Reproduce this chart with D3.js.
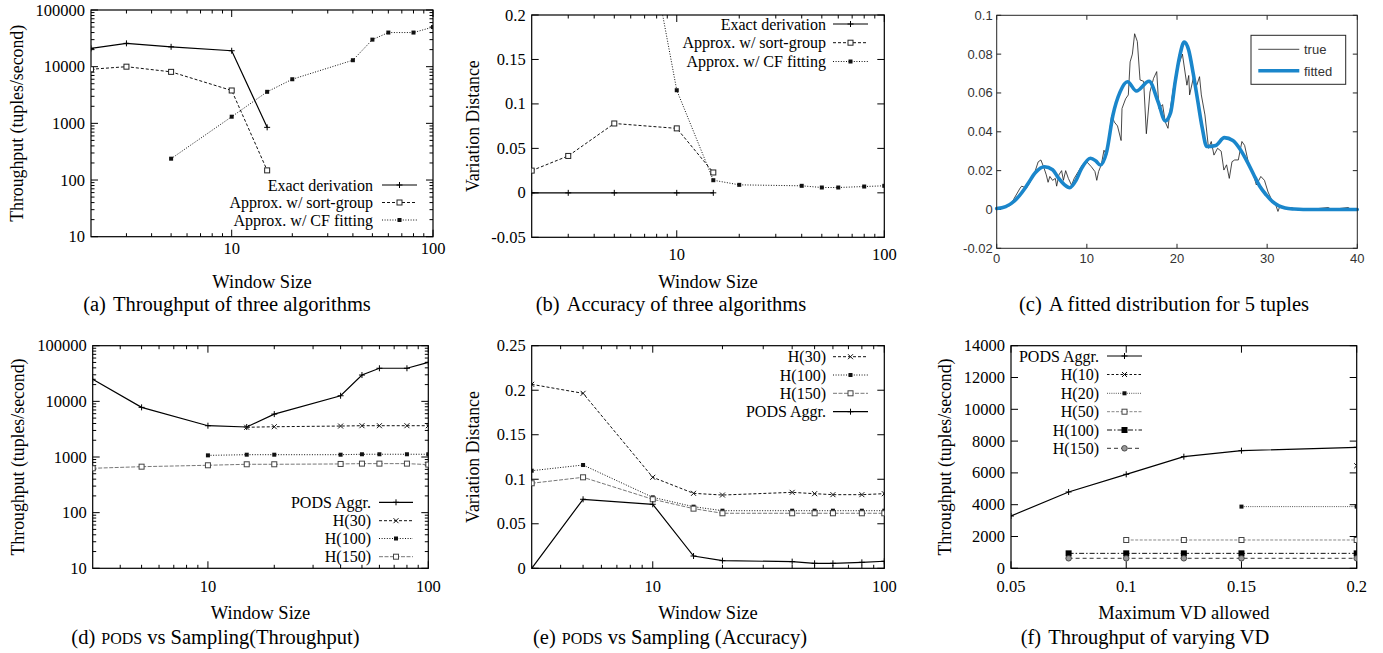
<!DOCTYPE html>
<html>
<head>
<meta charset="utf-8">
<script src="https://cdn.jsdelivr.net/npm/d3@7"></script>
<style>body{margin:0;background:#fff}</style>
</head>
<body>
<div id="chart"></div>
<script>
/* ---- data ---- */

// (a) throughput of three algorithms
var exactA_x = [2, 3, 5, 10, 15];
var exactA_y = [21000, 25800, 22400, 19100, 850];
var sortA_x = [2, 3, 5, 10, 15];
var sortA_y = [9000, 10000, 8100, 3800, 148];
var cfA_x = [5, 10, 15, 20, 40, 50, 60, 80, 100];
var cfA_y = [238, 1310, 3600, 6000, 13000, 30000, 40000, 40000, 50000];

// (b) accuracy of three algorithms
var exactB_x = [2, 3, 5, 10, 15];
var exactB_y = [0, 0, 0, 0, 0];
var sortB_x = [2, 3, 5, 10, 15];
var sortB_y = [0.025, 0.0415, 0.078, 0.0725, 0.0229];
var cfB_x = [5, 10, 15, 20, 40, 50, 60, 80, 100];
var cfB_y = [0.49, 0.1154, 0.0142, 0.009, 0.0079, 0.006, 0.006, 0.0071, 0.0079];

// (c) fitted distribution for 5 tuples
var fitX = [0, 1, 2, 3, 3.5, 4.3, 5.3, 6.2, 6.8, 7.5, 8.1, 8.8, 9.4, 10.4, 11, 11.5, 12.2, 12.9, 13.7, 14.5, 15.5, 16.9,
  17.9, 18.7, 19.3, 19.8, 20.3, 20.8, 21.3, 21.8, 22.3, 22.8, 23.3, 24.3, 25.25, 26.2, 27, 27.8, 28.5, 29.2, 29.9,
  30.6, 31.3, 32, 33, 34, 40];
var fitY = [0.0005, 0.0015, 0.0045, 0.01, 0.0135, 0.019, 0.022, 0.0205, 0.0165, 0.0128, 0.0112, 0.015, 0.021, 0.0264,
  0.025, 0.0229, 0.0298, 0.0487, 0.0607, 0.0658, 0.061, 0.066, 0.0555, 0.0456, 0.05, 0.0658, 0.079, 0.0862, 0.082,
  0.07, 0.056, 0.042, 0.0324, 0.033, 0.037, 0.0355, 0.031, 0.0245, 0.018, 0.0118, 0.0075, 0.004, 0.0018, 0.0007,
  0.0002, 0, 0];
var trueX = [0, 0.9, 1.5, 1.85, 2.6, 2.77, 3.3, 3.7, 4.25, 4.6, 4.9, 5.2, 5.5, 5.7, 5.9, 6.2, 6.5, 6.65, 6.9, 7.2, 7.4,
  7.65, 7.95, 8.3, 8.6, 9.05, 9.5, 10, 10.5, 10.9, 11.1, 11.3, 11.6, 11.9, 12.2, 12.75, 13.05, 13.4, 13.8, 13.9, 14.3,
  14.6, 14.8, 15.05, 15.3, 15.6, 15.9, 16.3, 16.6, 17, 17.4, 17.75, 18, 18.4, 18.7, 19, 19.2, 19.6, 20, 20.3, 20.6,
  21.1, 21.3, 21.4, 21.8, 22.2, 22.5, 22.7, 23.1, 23.5, 23.8, 24.1, 24.5, 24.9, 25.2, 25.5, 25.8, 26.1, 26.4, 26.8,
  27.2, 27.5, 27.9, 28.4, 28.8, 29.3, 29.7, 30.1, 30.5, 30.9, 31.2, 31.4, 32, 32.7, 33.4, 34.6, 36.8, 37.1, 39, 39.3, 40];
var trueY = [0, 0.0015, 0.002, 0.005, 0.011, 0.012, 0.011, 0.014, 0.0195, 0.0245, 0.0255, 0.022, 0.0178, 0.014, 0.017,
  0.015, 0.016, 0.012, 0.0178, 0.02, 0.015, 0.02, 0.016, 0.0125, 0.016, 0.0195, 0.023, 0.0245, 0.022, 0.0195, 0.015,
  0.0195, 0.023, 0.0305, 0.028, 0.0485, 0.045, 0.043, 0.0355, 0.052, 0.057, 0.059, 0.076, 0.08, 0.0905, 0.0865, 0.0667,
  0.066, 0.039, 0.0605, 0.0675, 0.071, 0.052, 0.054, 0.045, 0.0418, 0.05, 0.0625, 0.073, 0.076, 0.08, 0.064, 0.069,
  0.059, 0.0675, 0.064, 0.0684, 0.059, 0.0487, 0.0315, 0.035, 0.028, 0.0315, 0.03, 0.0203, 0.023, 0.016, 0.0246,
  0.0255, 0.0255, 0.035, 0.033, 0.0246, 0.0195, 0.0126, 0.017, 0.015, 0.009, 0.005, 0.003, -0.001, 0.0015, 0.0006,
  0.001, -0.0003, 0, 0.001, 0, 0.001, 0, 0];

// (d) PODS vs sampling, throughput
var podsD_x = [3, 5, 10, 15, 20, 40, 50, 60, 80, 100];
var podsD_y = [24900, 7800, 3650, 3460, 5900, 12600, 29700, 39300, 39300, 50300];
var h30D_x = [15, 20, 40, 50, 60, 80, 100];
var h30D_y = [3420, 3500, 3600, 3650, 3650, 3650, 3650];
var h100D_x = [10, 15, 20, 40, 50, 60, 80, 100];
var h100D_y = [1070, 1100, 1100, 1100, 1120, 1120, 1120, 1120];
var h150D_x = [3, 5, 10, 15, 20, 40, 50, 60, 80, 100];
var h150D_y = [627, 670, 710, 740, 740, 750, 760, 760, 760, 730];

// (e) PODS vs sampling, accuracy
var winE = [3, 5, 10, 15, 20, 40, 50, 60, 80, 100];
var h30E = [0.2066, 0.1965, 0.1022, 0.0842, 0.0823, 0.0853, 0.0838, 0.0827, 0.0827, 0.0838];
var h100E = [0.1096, 0.116, 0.0797, 0.0692, 0.0647, 0.0647, 0.0647, 0.0647, 0.0647, 0.0647];
var h150E = [0.0955, 0.1022, 0.0775, 0.067, 0.0618, 0.0618, 0.0618, 0.0618, 0.0618, 0.0618];
var podsE = [0, 0.0775, 0.0719, 0.0138, 0.0086, 0.0075, 0.0056, 0.0056, 0.0067, 0.0079];

// (f) throughput of varying VD
var podsF_x = [0.05, 0.075, 0.1, 0.125, 0.15, 0.2];
var podsF_y = [3290, 4800, 5910, 7020, 7400, 7610];
var h10F_x = [0.2];
var h10F_y = [6450];
var h20F_x = [0.15, 0.2];
var h20F_y = [3880, 3880];
var h50F_x = [0.1, 0.125, 0.15, 0.2];
var h50F_y = [1780, 1780, 1780, 1780];
var h100F_x = [0.075, 0.1, 0.125, 0.15, 0.2];
var h100F_y = [940, 940, 940, 940, 940];
var h150F_x = [0.075, 0.1, 0.125, 0.15, 0.2];
var h150F_y = [630, 630, 630, 630, 630];

/* ---- drawing ---- */
var SERIF = '"Liberation Serif", "Times New Roman", serif';
var SANS = '"Liberation Sans", Arial, sans-serif';
var TICK_FS = 16.5, LEG_FS = 16, TITLE_FS = 18.5, YTITLE_FS = 17.8, CAP_FS = 20.5;

var svg = d3.select('#chart').append('svg')
  .attr('width', 1383).attr('height', 653)
  .style('display', 'block')
  .style('background', '#fff');

var STYLES = {
  solid:   {color: '#000', width: 1.2, dash: null, mark: 'plus'},
  dashSq:  {color: '#111', width: 1, dash: '3,2', mark: 'openSq'},
  dotSq:   {color: '#111', width: 1, dash: '1,1.6', mark: 'fillSq'},
  dashX:   {color: '#111', width: 1, dash: '3,2', mark: 'cross'},
  graySq:  {color: '#777', width: 1, dash: '4,1.5', mark: 'openSq'},
  fH10:    {color: '#111', width: 1, dash: '2.5,2', mark: 'cross'},
  fH20:    {color: '#555', width: 1, dash: '1,1.2', mark: 'fillSq'},
  fH50:    {color: '#888', width: 1, dash: '3,1.5', mark: 'openSq'},
  fH100:   {color: '#111', width: 1, dash: '5,2,1.5,2', mark: 'bigSq'},
  fH150:   {color: '#333', width: 1, dash: '4,3', mark: 'circle'}
};

function marker(g, type, cx, cy, color) {
  var s;
  if (type === 'plus') {
    g.append('path').attr('d', 'M' + (cx - 3) + ',' + cy + 'h6M' + cx + ',' + (cy - 3) + 'v6')
      .attr('stroke', '#000').attr('stroke-width', 1);
  } else if (type === 'cross') {
    g.append('path').attr('d', 'M' + (cx - 2.5) + ',' + (cy - 2.5) + 'l5,5M' + (cx - 2.5) + ',' + (cy + 2.5) + 'l5,-5')
      .attr('stroke', '#111').attr('stroke-width', 1);
  } else if (type === 'openSq') {
    s = 5;
    g.append('rect').attr('x', cx - s / 2).attr('y', cy - s / 2).attr('width', s).attr('height', s)
      .attr('fill', '#fff').attr('stroke', color === '#777' || color === '#888' ? '#444' : '#222').attr('stroke-width', 1);
  } else if (type === 'fillSq') {
    s = 4;
    g.append('rect').attr('x', cx - s / 2).attr('y', cy - s / 2).attr('width', s).attr('height', s)
      .attr('fill', '#111');
  } else if (type === 'bigSq') {
    s = 6;
    g.append('rect').attr('x', cx - s / 2).attr('y', cy - s / 2).attr('width', s).attr('height', s)
      .attr('fill', '#000');
  } else if (type === 'circle') {
    g.append('circle').attr('cx', cx).attr('cy', cy).attr('r', 2.8)
      .attr('fill', '#999').attr('stroke', '#333').attr('stroke-width', 0.8);
  }
}

function logMinors(domain) {
  var out = [];
  var k0 = Math.floor(Math.log10(domain[0])), k1 = Math.ceil(Math.log10(domain[1]));
  for (var k = k0; k <= k1; k++) {
    for (var m = 2; m <= 9; m++) {
      var v = m * Math.pow(10, k);
      if (v > domain[0] && v < domain[1]) out.push(v);
    }
  }
  return out;
}

function fmtNum(v) {
  return String(+v.toFixed(3));
}

function drawPanel(p) {
  var g = svg.append('g');
  var x = (p.xLog ? d3.scaleLog() : d3.scaleLinear()).domain(p.xDomain).range([p.left, p.right]);
  var y = (p.yLog ? d3.scaleLog() : d3.scaleLinear()).domain(p.yDomain).range([p.bottom, p.top]);

  var clipId = 'clip-' + p.id;
  svg.append('clipPath').attr('id', clipId).append('rect')
    .attr('x', p.left).attr('y', p.top)
    .attr('width', p.right - p.left).attr('height', p.bottom - p.top);

  var ticks = g.append('g').attr('stroke', '#000').attr('stroke-width', 1);
  function xt(v, len) {
    var px = x(v);
    ticks.append('line').attr('x1', px).attr('x2', px).attr('y1', p.bottom).attr('y2', p.bottom - len);
    ticks.append('line').attr('x1', px).attr('x2', px).attr('y1', p.top).attr('y2', p.top + len);
  }
  function yt(v, len) {
    var py = y(v);
    ticks.append('line').attr('y1', py).attr('y2', py).attr('x1', p.left).attr('x2', p.left + len);
    ticks.append('line').attr('y1', py).attr('y2', py).attr('x1', p.right).attr('x2', p.right - len);
  }
  p.xTicks.forEach(function(v) { xt(v, 7); });
  p.yTicks.forEach(function(v) { yt(v, 7); });
  if (p.xLog) logMinors(p.xDomain).forEach(function(v) { xt(v, 3.5); });
  if (p.yLog) logMinors(p.yDomain).forEach(function(v) { yt(v, 3.5); });

  var lab = g.append('g').attr('font-family', SERIF).attr('font-size', TICK_FS).attr('fill', '#000');
  p.xTicks.forEach(function(v) {
    lab.append('text').attr('x', x(v)).attr('y', p.bottom + p.xLabOff)
      .attr('text-anchor', 'middle').text(p.xFmt(v));
  });
  p.yTicks.forEach(function(v) {
    lab.append('text').attr('x', p.left - 6).attr('y', y(v) + 5.5)
      .attr('text-anchor', 'end').text(p.yFmt(v));
  });

  g.append('rect').attr('x', p.left).attr('y', p.top)
    .attr('width', p.right - p.left).attr('height', p.bottom - p.top)
    .attr('fill', 'none').attr('stroke', '#000').attr('stroke-width', 1.2);

  var plot = g.append('g').attr('clip-path', 'url(#' + clipId + ')');
  var line = d3.line();
  p.series.forEach(function(s) {
    var st = STYLES[s.style];
    var pts = s.x.map(function(v, i) { return [x(v), y(s.y[i])]; });
    if (pts.length > 1) {
      plot.append('path').attr('d', line(pts)).attr('fill', 'none')
        .attr('stroke', st.color).attr('stroke-width', st.width)
        .attr('stroke-dasharray', st.dash);
    }
    pts.forEach(function(pt) { marker(plot, st.mark, pt[0], pt[1], st.color); });
  });

  var leg = g.append('g');
  p.legend.names.forEach(function(name, i) {
    var ly = p.legend.ys[i];
    var st = STYLES[p.series[p.legend.order[i]].style];
    leg.append('text').attr('x', p.legend.textX).attr('y', ly + 5.5)
      .attr('text-anchor', 'end').attr('font-family', SERIF).attr('font-size', LEG_FS)
      .text(name);
    leg.append('line').attr('x1', p.legend.x0).attr('x2', p.legend.x1).attr('y1', ly).attr('y2', ly)
      .attr('stroke', st.color).attr('stroke-width', st.width).attr('stroke-dasharray', st.dash);
    marker(leg, st.mark, (p.legend.x0 + p.legend.x1) / 2, ly, st.color);
  });

  g.append('text').attr('x', (p.left + p.right) / 2).attr('y', p.bottom + 51)
    .attr('text-anchor', 'middle').attr('font-family', SERIF).attr('font-size', TITLE_FS)
    .text(p.xTitle);
  g.append('text')
    .attr('transform', 'translate(' + p.yTitleX + ',' + ((p.top + p.bottom) / 2) + ') rotate(-90)')
    .attr('text-anchor', 'middle').attr('font-family', SERIF).attr('font-size', YTITLE_FS)
    .text(p.yTitle);
}

function caption(cx, cy, tag, parts) {
  var t = svg.append('text').attr('x', cx).attr('y', cy).attr('text-anchor', 'middle')
    .attr('font-family', SERIF).attr('font-size', CAP_FS);
  t.append('tspan').text(tag);
  parts.forEach(function(pt, i) {
    var ts = t.append('tspan').text(pt.t);
    if (i === 0) ts.attr('dx', pt.sc ? 6 : 7);
    if (pt.sc) ts.attr('font-size', CAP_FS * 0.78);
  });
}

var logFmt = d3.format('d');

// (a)
drawPanel({
  id: 'a', left: 91, right: 433, top: 10, bottom: 236.7,
  xLog: true, xDomain: [2, 100], yLog: true, yDomain: [10, 100000],
  xTicks: [10, 100], yTicks: [10, 100, 1000, 10000, 100000], xFmt: logFmt, yFmt: logFmt, xLabOff: 17,
  series: [
    {x: exactA_x, y: exactA_y, style: 'solid'},
    {x: sortA_x, y: sortA_y, style: 'dashSq'},
    {x: cfA_x, y: cfA_y, style: 'dotSq'}
  ],
  legend: {names: ['Exact derivation', 'Approx. w/ sort-group', 'Approx. w/ CF fitting'], order: [0, 1, 2],
    ys: [185, 202.5, 220], textX: 373, x0: 382, x1: 417},
  xTitle: 'Window Size', yTitle: 'Throughput (tuples/second)', yTitleX: 23
});

// (b)
drawPanel({
  id: 'b', left: 531.7, right: 884.3, top: 15, bottom: 237.3,
  xLog: true, xDomain: [2, 100], yLog: false, yDomain: [-0.05, 0.2],
  xTicks: [10, 100], yTicks: [-0.05, 0, 0.05, 0.1, 0.15, 0.2], xFmt: logFmt, yFmt: fmtNum, xLabOff: 23,
  series: [
    {x: exactB_x, y: exactB_y, style: 'solid'},
    {x: sortB_x, y: sortB_y, style: 'dashSq'},
    {x: cfB_x, y: cfB_y, style: 'dotSq'}
  ],
  legend: {names: ['Exact derivation', 'Approx. w/ sort-group', 'Approx. w/ CF fitting'], order: [0, 1, 2],
    ys: [24, 42.7, 61.5], textX: 826, x0: 833, x1: 868},
  xTitle: 'Window Size', yTitle: 'Variation Distance', yTitleX: 479
});

// (d)
drawPanel({
  id: 'd', left: 92.7, right: 428.3, top: 345.7, bottom: 568.3,
  xLog: true, xDomain: [3, 100], yLog: true, yDomain: [10, 100000],
  xTicks: [10, 100], yTicks: [10, 100, 1000, 10000, 100000], xFmt: logFmt, yFmt: logFmt, xLabOff: 24,
  series: [
    {x: podsD_x, y: podsD_y, style: 'solid'},
    {x: h30D_x, y: h30D_y, style: 'dashX'},
    {x: h100D_x, y: h100D_y, style: 'dotSq'},
    {x: h150D_x, y: h150D_y, style: 'graySq'}
  ],
  legend: {names: ['PODS Aggr.', 'H(30)', 'H(100)', 'H(150)'], order: [0, 1, 2, 3],
    ys: [502.3, 520.7, 538.5, 556.7], textX: 371, x0: 379, x1: 413},
  xTitle: 'Window Size', yTitle: 'Throughput (tuples/second)', yTitleX: 24
});

// (e)
drawPanel({
  id: 'e', left: 531.7, right: 884.3, top: 345.7, bottom: 568.3,
  xLog: true, xDomain: [3, 100], yLog: false, yDomain: [0, 0.25],
  xTicks: [10, 100], yTicks: [0, 0.05, 0.1, 0.15, 0.2, 0.25], xFmt: logFmt, yFmt: fmtNum, xLabOff: 24,
  series: [
    {x: winE, y: h30E, style: 'dashX'},
    {x: winE, y: h100E, style: 'dotSq'},
    {x: winE, y: h150E, style: 'graySq'},
    {x: winE, y: podsE, style: 'solid'}
  ],
  legend: {names: ['H(30)', 'H(100)', 'H(150)', 'PODS Aggr.'], order: [0, 1, 2, 3],
    ys: [356.7, 375, 393.3, 411.7], textX: 826, x0: 833, x1: 868},
  xTitle: 'Window Size', yTitle: 'Variation Distance', yTitleX: 479
});

// (f)
drawPanel({
  id: 'f', left: 1011, right: 1356.7, top: 345.7, bottom: 568.3,
  xLog: false, xDomain: [0.05, 0.2], yLog: false, yDomain: [0, 14000],
  xTicks: [0.05, 0.1, 0.15, 0.2], yTicks: d3.range(0, 14001, 2000), xFmt: fmtNum, yFmt: logFmt, xLabOff: 24,
  series: [
    {x: podsF_x, y: podsF_y, style: 'solid'},
    {x: h10F_x, y: h10F_y, style: 'fH10'},
    {x: h20F_x, y: h20F_y, style: 'fH20'},
    {x: h50F_x, y: h50F_y, style: 'fH50'},
    {x: h100F_x, y: h100F_y, style: 'fH100'},
    {x: h150F_x, y: h150F_y, style: 'fH150'}
  ],
  legend: {names: ['PODS Aggr.', 'H(10)', 'H(20)', 'H(50)', 'H(100)', 'H(150)'], order: [0, 1, 2, 3, 4, 5],
    ys: [356, 374.5, 393.3, 411.7, 430, 448.3], textX: 1099, x0: 1107, x1: 1142},
  xTitle: 'Maximum VD allowed', yTitle: 'Throughput (tuples/second)', yTitleX: 951
});

// (c) MATLAB-style panel
(function() {
  var L = 996.7, R = 1357.3, T = 15.3, B = 248.3;
  var x = d3.scaleLinear().domain([0, 40]).range([L, R]);
  var y = d3.scaleLinear().domain([-0.02, 0.1]).range([B, T]);
  var g = svg.append('g');
  var xt = [0, 10, 20, 30, 40];
  var yt = [-0.02, 0, 0.02, 0.04, 0.06, 0.08, 0.1];
  var tk = g.append('g').attr('stroke', '#262626').attr('stroke-width', 1);
  xt.forEach(function(v) {
    tk.append('line').attr('x1', x(v)).attr('x2', x(v)).attr('y1', B).attr('y2', B - 4.5);
    tk.append('line').attr('x1', x(v)).attr('x2', x(v)).attr('y1', T).attr('y2', T + 4.5);
  });
  yt.forEach(function(v) {
    tk.append('line').attr('y1', y(v)).attr('y2', y(v)).attr('x1', L).attr('x2', L + 4.5);
    tk.append('line').attr('y1', y(v)).attr('y2', y(v)).attr('x1', R).attr('x2', R - 4.5);
  });
  var lab = g.append('g').attr('font-family', SANS).attr('font-size', 13).attr('fill', '#333');
  xt.forEach(function(v) {
    lab.append('text').attr('x', x(v)).attr('y', B + 15).attr('text-anchor', 'middle').text(v);
  });
  yt.forEach(function(v) {
    lab.append('text').attr('x', L - 4).attr('y', y(v) + 4.5).attr('text-anchor', 'end').text(fmtNum(v));
  });

  var line = d3.line().x(function(d) { return x(d[0]); }).y(function(d) { return y(d[1]); });
  g.append('path').attr('d', line(trueX.map(function(v, i) { return [v, trueY[i]]; })))
    .attr('fill', 'none').attr('stroke', '#1a1a1a').attr('stroke-width', 0.8);
  g.append('path').attr('d', line.curve(d3.curveMonotoneX)(fitX.map(function(v, i) { return [v, fitY[i]]; })))
    .attr('fill', 'none').attr('stroke', '#1a86cb').attr('stroke-width', 3.6)
    .attr('stroke-linejoin', 'round').attr('stroke-linecap', 'round');

  g.append('rect').attr('x', L).attr('y', T).attr('width', R - L).attr('height', B - T)
    .attr('fill', 'none').attr('stroke', '#262626').attr('stroke-width', 1);

  var lg = g.append('g');
  lg.append('rect').attr('x', 1251).attr('y', 35.3).attr('width', 94.7).attr('height', 49)
    .attr('fill', '#fff').attr('stroke', '#262626').attr('stroke-width', 1);
  lg.append('line').attr('x1', 1258.3).attr('x2', 1299.3).attr('y1', 49.3).attr('y2', 49.3)
    .attr('stroke', '#1a1a1a').attr('stroke-width', 0.8);
  lg.append('line').attr('x1', 1258.3).attr('x2', 1299.3).attr('y1', 70.7).attr('y2', 70.7)
    .attr('stroke', '#1a86cb').attr('stroke-width', 3.6);
  lg.append('text').attr('x', 1304).attr('y', 54).attr('font-family', SANS).attr('font-size', 13)
    .attr('fill', '#333').text('true');
  lg.append('text').attr('x', 1304).attr('y', 75.5).attr('font-family', SANS).attr('font-size', 13)
    .attr('fill', '#333').text('fitted');
})();

// captions
caption(227, 311, '(a)', [{t: 'Throughput of three algorithms'}]);
caption(671, 311, '(b)', [{t: 'Accuracy of three algorithms'}]);
caption(1164, 311, '(c)', [{t: 'A fitted distribution for 5 tuples'}]);
caption(215.5, 644, '(d)', [{t: 'PODS', sc: true}, {t: ' vs Sampling(Throughput)'}]);
caption(670, 644, '(e)', [{t: 'PODS', sc: true}, {t: ' vs Sampling (Accuracy)'}]);
caption(1145, 644, '(f)', [{t: 'Throughput of varying VD'}]);
</script>
</body>
</html>
